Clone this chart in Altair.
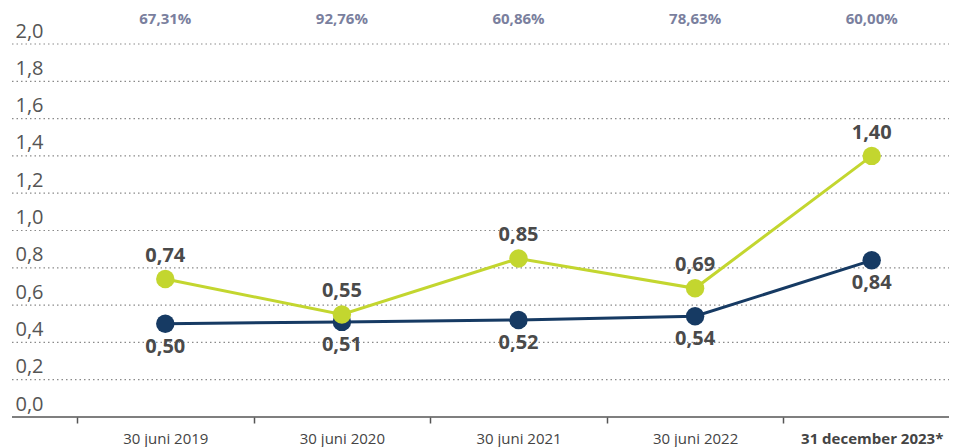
import altair as alt
import pandas as pd

dates = ["30 juni 2019", "30 juni 2020", "30 juni 2021", "30 juni 2022", "31 december 2023*"]
green_vals = [0.74, 0.55, 0.85, 0.69, 1.40]
navy_vals = [0.50, 0.51, 0.52, 0.54, 0.84]
pct_labels = ["67,31%", "92,76%", "60,86%", "78,63%", "60,00%"]
y_ticks = [0.0, 0.2, 0.4, 0.6, 0.8, 1.0, 1.2, 1.4, 1.6, 1.8, 2.0]

GREEN = "#c3d62f"
NAVY = "#163a63"
FONT = "Open Sans"
W, H = 937, 373

df = pd.DataFrame({"date": dates, "green": green_vals, "navy": navy_vals, "pct": pct_labels})
grid_df = pd.DataFrame({"v": y_ticks[1:]})
zero_df = pd.DataFrame({"v": [0.0]})

X = alt.X(
    "date:N",
    sort=dates,
    title=None,
    scale=alt.Scale(type="band", range=[65, 948], paddingInner=0, paddingOuter=0),
    axis=alt.Axis(
        tickBand="extent",
        domain=False,
        ticks=True,
        tickSize=6,
        tickColor="#555555",
        tickWidth=1.5,
        labelFont=FONT,
        labelFontSize=15,
        labelColor="#444444",
        labelPadding=8,
        labelAngle=0,
        labelFontWeight=alt.condition("datum.value == '31 december 2023*'", alt.value("bold"), alt.value("normal")),
        grid=False,
    ),
)

YSCALE = alt.Scale(domain=[0, 2], nice=False, zero=True)
YAXIS = alt.Axis(
    values=y_ticks,
    domain=False,
    ticks=False,
    tickSize=0,
    labelAlign="left",
    labelBaseline="alphabetic",
    labelOffset=-7,
    labelPadding=-3,
    labelFont=FONT,
    labelFontSize=20,
    labelColor="#555555",
    labelExpr="replace(format(datum.value, '.1f'), '.', ',')",
    grid=False,
)


def Y(field):
    return alt.Y(f"{field}:Q", title=None, scale=YSCALE, axis=YAXIS)


grid = alt.Chart(grid_df).mark_rule(color="#8a8a8a", strokeWidth=1.2, strokeDash=[1.5, 3]).encode(
    y=Y("v"), x=alt.value(0), x2=alt.value(W)
)
zero = alt.Chart(zero_df).mark_rule(color="#555555", strokeWidth=1.5).encode(
    y=Y("v"), x=alt.value(0), x2=alt.value(W)
)

base = alt.Chart(df)


def series(field, color, dy):
    line = base.mark_line(color=color, strokeWidth=3).encode(x=X, y=Y(field))
    pts = base.mark_circle(color=color, size=340, opacity=1).encode(x=X, y=Y(field))
    lbl = (
        base.transform_calculate(lab=f"replace(format(datum.{field}, '.2f'), '.', ',')")
        .mark_text(dy=dy, fontSize=20, fontWeight="bold", color="#4a4a4a", font=FONT)
        .encode(x=X, y=Y(field), text="lab:N")
    )
    return [line, pts, lbl]


pct = base.mark_text(fontSize=15, fontWeight="bold", color="#7a7f9e", font=FONT, baseline="middle").encode(
    x=X, y=alt.value(-25), text="pct:N"
)

layers = [grid, zero] + series("navy", NAVY, 23) + series("green", GREEN, -23) + [pct]

chart = (
    alt.layer(*layers)
    .properties(
        width=W,
        height=H,
        padding={"left": 4, "top": 36, "right": 0, "bottom": 30},
        autosize=alt.AutoSizeParams(type="none"),
    )
    .configure_view(stroke=None)
)

chart.save("out.html", embed_options={"renderer": "svg", "actions": False})
